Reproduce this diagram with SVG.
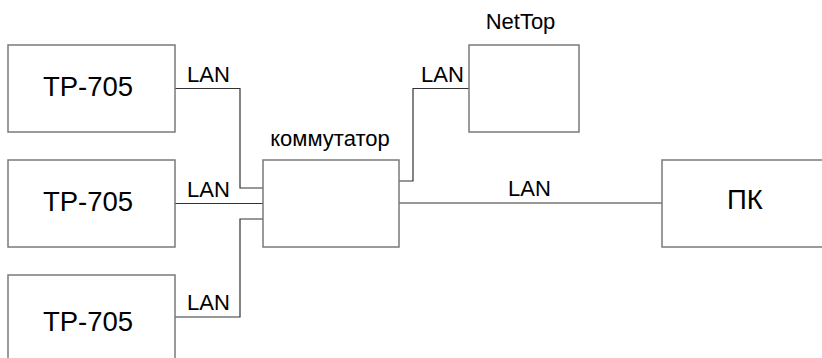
<svg xmlns="http://www.w3.org/2000/svg" width="822" height="358" viewBox="0 0 822 358">
<style>
.box{fill:#fff;stroke:#7a7a7a;stroke-width:1.5}
.wire{fill:none;stroke:#333;stroke-width:1.2}
.big{font-family:"Liberation Sans",Arial,sans-serif;font-size:27.5px;fill:#000;text-anchor:middle}
.lbl{font-family:"Liberation Sans",Arial,sans-serif;font-size:22px;fill:#000}
</style>
<rect width="822" height="358" fill="#fff"/>
<g id="connectors">
<polyline class="wire" points="175,88.5 240,88.5 240,188 263,188"/>
<polyline class="wire" points="175,203.5 263,203.5"/>
<polyline class="wire" points="263,219 240,219 240,317 175,317"/>
<polyline class="wire" points="399,181 413,181 413,88.5 469,88.5"/>
<polyline class="wire" points="399,203 662,203"/>
<text class="lbl" x="187" y="82">LAN</text>
<text class="lbl" x="187" y="197">LAN</text>
<text class="lbl" x="187" y="310">LAN</text>
<text class="lbl" x="421" y="82">LAN</text>
<text class="lbl" x="508" y="196">LAN</text>
</g>
<g id="tp1">
<rect class="box" x="8" y="45" width="167" height="87"/>
<text class="big" x="88" y="96">TP-705</text>
</g>
<g id="tp2">
<rect class="box" x="8" y="160" width="167" height="87"/>
<text class="big" x="88" y="211">TP-705</text>
</g>
<g id="tp3">
<rect class="box" x="8" y="275" width="167" height="90"/>
<text class="big" x="88" y="331">TP-705</text>
</g>
<g id="switch">
<rect class="box" x="263" y="160" width="136" height="87"/>
<text class="lbl" x="330" y="146" text-anchor="middle">коммутатор</text>
</g>
<g id="nettop">
<rect class="box" x="469" y="45" width="110" height="87"/>
<text class="lbl" x="520.5" y="29" text-anchor="middle">NetTop</text>
</g>
<g id="pc">
<rect class="box" x="662" y="160" width="170" height="87"/>
<text class="big" x="745" y="209">ПК</text>
</g>
</svg>
